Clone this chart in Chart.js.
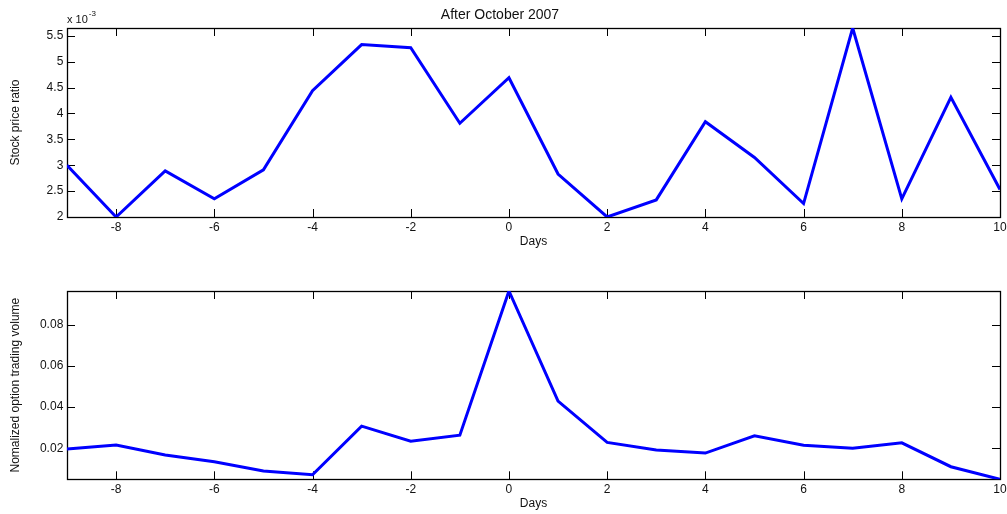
<!DOCTYPE html>
<html><head><meta charset="utf-8">
<script src="https://cdn.jsdelivr.net/npm/chart.js@4.4.0/dist/chart.umd.min.js"></script>
<style>
html,body{margin:0;padding:0;background:#fff;}
#wrap{position:relative;width:1007px;height:514px;overflow:hidden;}
canvas{position:absolute;left:0;}
</style></head><body>
<div id="wrap">
<canvas id="c1" width="1007" height="257" style="top:0"></canvas>
<canvas id="c2" width="1007" height="257" style="top:257px"></canvas>
</div>
<script>
// ---- data ----
const days = [-9,-8,-7,-6,-5,-4,-3,-2,-1,0,1,2,3,4,5,6,7,8,9,10];
// stock price ratio, in units of 10^-3
const stockRatio = [3.00,2.00,2.89,2.35,2.91,4.44,5.33,5.27,3.81,4.69,2.83,2.00,2.33,3.84,3.15,2.26,5.65,2.35,4.31,2.53];
const optionVolume = [0.0197,0.0216,0.0168,0.0135,0.0090,0.0072,0.0308,0.0235,0.0264,0.0963,0.0429,0.0229,0.0192,0.0177,0.0261,0.0215,0.0200,0.0227,0.0111,0.0050];
const xTicks = [-8,-6,-4,-2,0,2,4,6,8,10];
const stockTicks = [2,2.5,3,3.5,4,4.5,5,5.5];
const volumeTicks = [0.02,0.04,0.06,0.08];
const titleText = 'After October 2007';
const xTitle = 'Days';
const stockTitle = 'Stock price ratio';
const volumeTitle = 'Nomalized option trading volume';

Chart.defaults.font.family = "'Liberation Sans', Arial, sans-serif";
Chart.defaults.font.size = 12;
Chart.defaults.color = '#111';

const fmt = v => String(+Number(v).toFixed(4));

const boxTicks = {
  id: 'boxTicks',
  beforeDatasetsDraw(chart) {
    const {ctx, chartArea: a, scales: {x, y}} = chart;
    const L = 8;
    ctx.save();
    ctx.strokeStyle = '#000';
    ctx.lineWidth = 1;
    ctx.beginPath();
    x.ticks.forEach(t => {
      const px = Math.round(x.getPixelForValue(t.value)) + 0.5;
      ctx.moveTo(px, a.bottom); ctx.lineTo(px, a.bottom - L);
      ctx.moveTo(px, a.top); ctx.lineTo(px, a.top + L);
    });
    y.ticks.forEach(t => {
      const py = Math.round(y.getPixelForValue(t.value)) + 0.5;
      ctx.moveTo(a.left, py); ctx.lineTo(a.left + L, py);
      ctx.moveTo(a.right, py); ctx.lineTo(a.right - L, py);
    });
    ctx.stroke();
    ctx.lineWidth = 1.3;
    ctx.strokeRect(Math.round(a.left) + 0.5, Math.round(a.top) + 0.5, Math.round(a.right - a.left), Math.round(a.bottom - a.top));
    ctx.restore();
  }
};

const expLabel = {
  id: 'expLabel',
  afterDraw(chart, args, opts) {
    if (!opts || !opts.show) return;
    const {ctx, chartArea: a} = chart;
    ctx.save();
    ctx.fillStyle = '#111';
    ctx.textBaseline = 'middle';
    ctx.textAlign = 'left';
    ctx.font = "11px 'Liberation Sans', Arial, sans-serif";
    ctx.fillText('x 10', a.left, 20);
    const w = ctx.measureText('x 10').width;
    ctx.font = "8px 'Liberation Sans', Arial, sans-serif";
    ctx.fillText('-3', a.left + w + 1, 14);
    ctx.restore();
  }
};

function makeChart(id, values, yTicks, yTitle, cfg) {
  const yMin = Math.min(...values), yMax = Math.max(...values);
  return new Chart(document.getElementById(id), {
    type: 'line',
    data: {
      datasets: [{
        data: days.map((d, i) => ({x: d, y: values[i]})),
        borderColor: '#0000ff',
        borderWidth: 3,
        pointRadius: 0,
        tension: 0,
        fill: false
      }]
    },
    options: {
      responsive: false,
      animation: false,
      events: [],
      layout: {padding: {top: cfg.padTop, right: 7, left: 0, bottom: 0}},
      plugins: {
        legend: {display: false},
        tooltip: {enabled: false},
        title: cfg.title ? {
          display: true, text: cfg.title, color: '#111',
          font: {size: 14, weight: 'normal', lineHeight: 1.0},
          padding: {top: 8, bottom: 6}
        } : {display: false},
        expLabel: {show: !!cfg.exp}
      },
      scales: {
        x: {
          type: 'linear', min: days[0], max: days[days.length - 1],
          grid: {display: false, drawTicks: false},
          border: {display: false},
          afterBuildTicks: s => { s.ticks = xTicks.map(v => ({value: v})); },
          afterFit: s => { s.height = cfg.xHeight; s.paddingRight = 0; s.paddingLeft = 0; },
          ticks: {padding: cfg.xTickPad, maxRotation: 0, autoSkip: false, callback: fmt, color: '#111', font: {size: 12}},
          title: {display: true, text: xTitle, color: '#111', font: {size: 12}, padding: {top: 0, bottom: cfg.xTitlePad}}
        },
        y: {
          type: 'linear', min: yMin, max: yMax,
          grid: {display: false, drawTicks: false},
          border: {display: false},
          afterBuildTicks: s => { s.ticks = yTicks.map(v => ({value: v})); },
          afterFit: s => { s.width = 67; s.paddingTop = 0; s.paddingBottom = 0; },
          ticks: {padding: 3.7, autoSkip: false, callback: fmt, color: '#111', font: {size: 12}},
          title: {display: true, text: yTitle, color: '#111', font: {size: 12}, padding: {top: 8.8, bottom: 0}}
        }
      }
    },
    plugins: [boxTicks, expLabel]
  });
}

makeChart('c1', stockRatio, stockTicks, stockTitle, {title: titleText, padTop: 0, xHeight: 40, xTickPad: 3.8, xTitlePad: 8.1, exp: true});
makeChart('c2', optionVolume, volumeTicks, volumeTitle, {title: null, padTop: 34, xHeight: 34.7, xTickPad: 3.0, xTitlePad: 3.0, exp: false});
</script>
</body></html>
